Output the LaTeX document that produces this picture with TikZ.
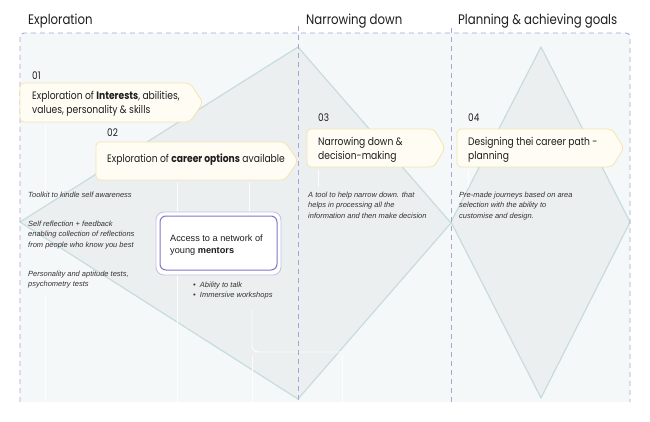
\documentclass[tikz,border=0pt]{standalone}
\usepackage{fontspec}
\setmainfont{Liberation Sans}
\newfontfamily\geo{Poppins}[FakeStretch=0.85]
\newcommand{\ml}[1]{\begin{tabular}[t]{@{}l@{}}#1\end{tabular}}
\definecolor{bgc}{HTML}{F5F8F9}
\definecolor{dfill}{HTML}{ECEFF0}
\definecolor{dline}{HTML}{C8DCDC}
\definecolor{dashc}{HTML}{A8A4DA}
\definecolor{cfill}{HTML}{FFFCF4}
\definecolor{cline}{HTML}{F5E4AE}
\definecolor{mline}{HTML}{7D77C7}
\definecolor{mout}{HTML}{C2BEE8}
\definecolor{ink}{HTML}{1E1E1E}
\definecolor{notec}{HTML}{333333}
\begin{document}
\begin{tikzpicture}[x=1pt,y=-1pt,
  phase/.style={font=\geo\fontsize{13.8}{16}\selectfont, anchor=base west, inner sep=0pt, text=ink},
  num/.style={font=\geo\fontsize{10.5}{12}\selectfont, anchor=base west, inner sep=0pt, text=ink},
  ctext/.style={font=\geo\fontsize{10.8}{13.3}\selectfont, anchor=base west, inner sep=0pt, text=ink},
  notetext/.style={font=\itshape\fontsize{7.5}{10.8}\selectfont, anchor=base west, inner sep=0pt, text=notec},
  mtext/.style={font=\fontsize{9.2}{12.5}\selectfont, anchor=base west, inner sep=0pt, text=ink},
  callout/.style={draw=cline, fill=cfill, line width=0.8pt, rounded corners=4pt},
  sepline/.style={draw=dashc, line width=0.9pt, dash pattern=on 5pt off 4pt},
  kite/.style={draw=dline, fill=dfill, line width=1.2pt, line join=round},
  faint/.style={draw=white, line width=0.9pt, opacity=0.9},
]
\useasboundingbox (0,0) rectangle (650,422);
\fill[white] (0,0) rectangle (650,422);
\fill[bgc] (20,33) rectangle (630,402);
% kites
\draw[kite] (298,47) -- (451,223) -- (298,399) -- (20,222) -- cycle;
\draw[kite] (541,47) -- (630,222) -- (541,398) -- (451,222) -- cycle;
% faint guide lines
\draw[faint] (45,125) -- (45,193);
\draw[faint] (45,295) -- (45,402);
\draw[faint] (177,183) -- (177,402);
\draw[faint] (249,183) -- (249,212);
\draw[faint, rounded corners=6pt] (252,310) -- (252,352) -- (342,352);
\draw[faint] (252,356) -- (252,402);
\draw[faint] (342,356) -- (342,402);
\draw[faint] (318,170) -- (318,187);
\draw[faint] (468,170) -- (468,187);
% dashed frame
\draw[sepline, rounded corners=4pt] (20,402) -- (20,33) -- (630,33) -- (630,402);
\draw[sepline] (298,26) -- (298,402);
\draw[sepline] (451,28) -- (451,402);
% titles
\node[phase] (t1) at (28,25) {Exploration};
\node[phase] (t2) at (306,25) {Narrowing down};
\node[phase] (t3) at (458,25) {Planning \& achieving goals};
% callouts
\draw[callout] (20,83) -- (190,83) -- (203,102.5) -- (190,122) -- (20,122) -- cycle;
\draw[callout] (96,142) -- (285,142) -- (298,161) -- (285,180) -- (96,180) -- cycle;
\draw[callout] (307,129) -- (434,129) -- (445,148) -- (434,167) -- (307,167) -- cycle;
\draw[callout] (457,129) -- (612,129) -- (624,148) -- (612,167) -- (457,167) -- cycle;
\node[num] (n1) at (32,80) {01};
\node[num] (n2) at (107,137) {02};
\node[num] (n3) at (318,122) {03};
\node[num] (n4) at (468,122) {04};
\node[ctext] (c1) at (32,100) {\ml{Exploration of \textbf{Interests}, abilities,\\values, personality \& skills}};
\node[ctext] (c2) at (107,163) {Exploration of \textbf{career options} available};
\node[ctext] (c3) at (318,146) {\ml{Narrowing down \&\\decision-making}};
\node[ctext] (c4) at (468,146) {\ml{Designing thei career path -\\planning}};
% notes
\node[notetext] (s1) at (28,197) {Toolkit to kindle self awareness};
\node[notetext] (s2) at (28,226) {\ml{Self reflection + feedback\\enabling collection of reflections\\from people who know you best}};
\node[notetext] (s3) at (28,276) {\ml{Personality and aptitude tests,\\psychometry tests}};
\node[notetext] (s4) at (308,197) {\ml{A tool to help narrow down. that\\helps in processing all the\\information and then make decision}};
\node[notetext] (s5) at (459,197) {\ml{Pre-made journeys based on area\\selection with the ability to\\customise and design.}};
% mentors
\draw[mout, line width=0.8pt, fill=white, rounded corners=8pt] (156,212) rectangle (281,275);
\draw[mline, line width=1pt, fill=white, rounded corners=6pt] (160,216) rectangle (277,270);
\node[mtext] (m1) at (170,241) {\ml{Access to a network of\\young \textbf{mentors}}};
\node[notetext] (b1) at (193,287) {\ml{\textbullet\ \ Ability to talk\\\textbullet\ \ Immersive workshops}};
\end{tikzpicture}
\end{document}
